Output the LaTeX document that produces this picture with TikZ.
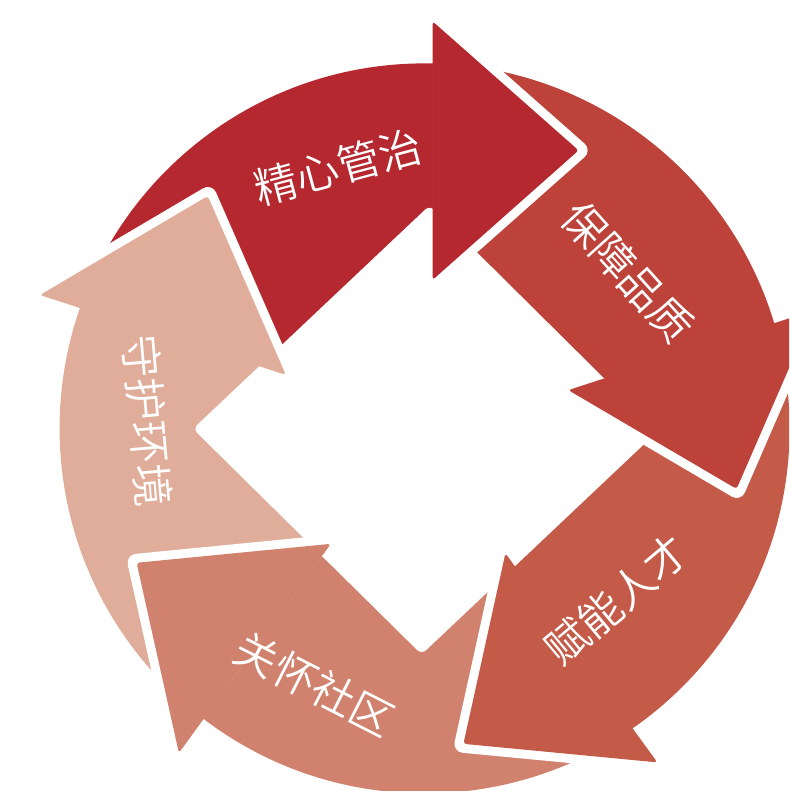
\documentclass[tikz,border=0pt]{standalone}
\usepackage{fontspec}
\IfFontExistsTF{Noto Sans CJK SC DemiLight}
  {\newfontfamily\cjk{Noto Sans CJK SC DemiLight}}
  {\IfFontExistsTF{Noto Sans CJK SC Light}
     {\newfontfamily\cjk{Noto Sans CJK SC Light}}
     {\newfontfamily\cjk{Noto Sans CJK SC}}}
\definecolor{cA}{RGB}{181,40,47}
\definecolor{cB}{RGB}{188,66,58}
\definecolor{cC}{RGB}{196,90,72}
\definecolor{cD}{RGB}{208,130,110}
\definecolor{cE}{RGB}{224,173,155}
\tikzset{
  lbl/.style={text=white, font=\cjk\fontsize{43}{43}\selectfont, inner sep=0pt},
  headgap/.style={draw=white, line width=18pt, line join=round},
}
\begin{document}
\begin{tikzpicture}[x=1pt,y=1pt]
\useasboundingbox (-424.6,-362.6) rectangle (364.4,428.4);
\clip (-424.6,-362.6) rectangle (364.4,428.4);
% arrow bodies
\begin{scope}
  \clip (0,0) circle (365);
  \foreach \k/\c in {0/cA,1/cB,2/cC,3/cD,4/cE}{
    \fill[\c, rotate=-72*\k] (10,0) -- (10,600) -- (161.24:600) -- (72:8) -- cycle;
  }
\end{scope}
% central white diamond
\fill[white, rounded corners=6] (-231.6,-0.4) -- (5,223) -- (233,-3) -- (-3,-226) -- cycle;
% arrow heads
\foreach \k/\c in {0/cA,1/cB,2/cC,3/cD,4/cE}{
  \begin{scope}[rotate=-72*\k]
    \draw[headgap] (8,407) -- (154,278) -- (8,148.5);
    \fill[\c, rounded corners=3] (8,407) -- (154,278) -- (8,148.5) -- cycle;
  \end{scope}
}
% labels
\node[lbl, rotate=15]  (t1) at (-86.6,261.4)  {精心管治};
\node[lbl, rotate=-48] (t2) at (203.4,156.4)  {保障品质};
\node[lbl, rotate=40]  (t3) at (191.9,-171.6) {赋能人才};
\node[lbl, rotate=-27] (t4) at (-109.6,-255.6) {关怀社区};
\node[lbl, rotate=-85] (t5) at (-277.1,7.4)   {守护环境};
\end{tikzpicture}
\end{document}
